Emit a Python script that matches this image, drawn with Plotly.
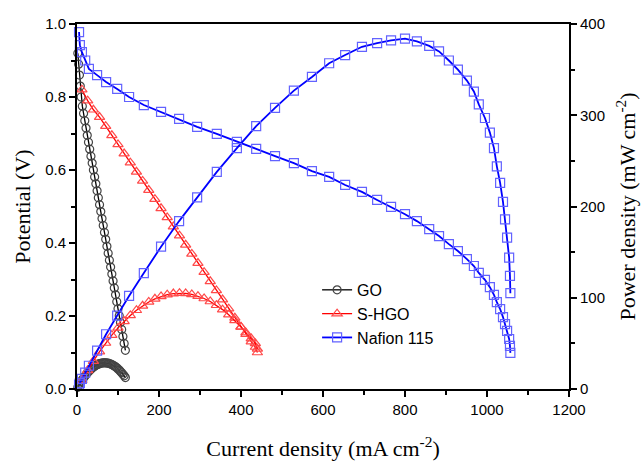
import plotly.graph_objects as go

# ---------------- data ----------------
# GO
go_i = [2, 4, 6, 8, 10, 13, 16, 19, 22, 25, 28, 31, 34, 37, 40, 43, 46, 49, 52, 55,
        58, 61, 64, 67, 70, 73, 76, 79, 82, 85, 88, 91, 94, 97, 100, 103, 106, 109, 112, 115, 118]
go_v = [0.92, 0.89, 0.86, 0.83, 0.80, 0.775, 0.755, 0.735, 0.715, 0.695, 0.676, 0.657, 0.638,
        0.619, 0.60, 0.581, 0.562, 0.543, 0.524, 0.505, 0.486, 0.467, 0.448, 0.429, 0.41, 0.391,
        0.372, 0.353, 0.334, 0.315, 0.296, 0.277, 0.258, 0.239, 0.22, 0.201, 0.182, 0.163, 0.144,
        0.125, 0.106]
go_p = [1.8, 3.6, 5.2, 6.6, 8.0, 10.1, 12.1, 14.0, 15.7, 17.4, 18.9, 20.4, 21.7, 22.9, 24.0,
        25.0, 25.9, 26.6, 27.2, 27.8, 28.2, 28.5, 28.7, 28.7, 28.7, 28.5, 28.3, 27.9, 27.4, 26.8,
        26.0, 25.2, 24.3, 23.2, 22.0, 20.7, 19.3, 17.8, 16.1, 14.4, 12.5]

# S-HGO
shgo_i = [12, 26, 40, 55, 70, 85, 100, 115, 130, 145, 160, 175, 190, 205, 220, 235, 250, 265,
          280, 295, 310, 325, 340, 355, 370, 385, 400, 412, 425, 435, 440]
shgo_v = [0.82, 0.79, 0.765, 0.745, 0.72, 0.695, 0.67, 0.645, 0.62, 0.595, 0.57, 0.545, 0.52,
          0.495, 0.47, 0.445, 0.42, 0.395, 0.37, 0.345, 0.32, 0.295, 0.27, 0.245, 0.22, 0.195,
          0.17, 0.15, 0.13, 0.115, 0.10]
shgo_p = [9.8, 20.5, 30.6, 41.0, 50.4, 59.0, 67.0, 74.2, 80.6, 86.3, 91.2, 95.4, 98.8, 101.5,
          103.4, 104.6, 105.0, 104.7, 103.6, 101.8, 99.2, 95.9, 91.8, 87.0, 81.4, 75.1, 68.0,
          61.8, 55.3, 50.0, 44.0]

# Nafion 115
naf_i = [5, 7, 12, 20, 29, 49, 71, 98, 127, 163, 205, 249, 293, 341, 390, 437, 483, 529, 573,
         615, 654, 695, 732, 766, 800, 829, 859, 883, 907, 929, 951, 968, 980, 995, 1007, 1017,
         1024, 1032, 1039, 1044, 1049, 1054, 1056, 1057]
naf_v = [0.978, 0.942, 0.923, 0.90, 0.877, 0.86, 0.841, 0.822, 0.80, 0.778, 0.759, 0.74, 0.718,
         0.699, 0.677, 0.658, 0.638, 0.619, 0.597, 0.581, 0.559, 0.54, 0.518, 0.499, 0.479, 0.46,
         0.438, 0.419, 0.397, 0.378, 0.356, 0.337, 0.318, 0.299, 0.279, 0.258, 0.238, 0.219,
         0.197, 0.178, 0.159, 0.137, 0.118, 0.099]
naf_p = [4.9, 6.6, 11, 18, 25.5, 42, 60, 80.5, 102, 127, 156, 184, 210, 238, 264, 288, 308, 327,
         342, 357, 366, 375, 379, 382, 384, 381, 376, 370, 360, 350, 338, 326, 312, 297, 281,
         264, 244, 226, 205, 186, 166, 144, 124, 105]

names = ["GO", "S-HGO", "Nafion 115"]
line_colors = ["#000000", "#ff0000", "#0000ff"]
marker_colors = ["#444444", "#ff4a4a", "#6262ff"]
symbols = ["circle-open", "triangle-up-open", "square-open"]
sizes = [8, 9, 9]
line_widths = [1.3, 1.3, 1.8]

series = [(go_i, go_v, go_p), (shgo_i, shgo_v, shgo_p), (naf_i, naf_v, naf_p)]

fig = go.Figure()
for k, (ii, vv, pp) in enumerate(series):
    common = dict(
        mode="lines+markers",
        line=dict(color=line_colors[k], width=line_widths[k]),
        marker=dict(symbol=symbols[k], size=sizes[k], color=marker_colors[k],
                    line=dict(color=marker_colors[k], width=1.2)),
        cliponaxis=False,
    )
    fig.add_trace(go.Scatter(x=ii, y=vv, name=names[k], showlegend=True, yaxis="y", **common))
    fig.add_trace(go.Scatter(x=ii, y=pp, name=names[k], showlegend=False, yaxis="y2", **common))

tickfont = dict(family="Liberation Sans, Arial", size=15, color="#000")
titlefont = dict(family="Liberation Serif, Times New Roman", size=22, color="#000")

fig.update_layout(
    width=643, height=461,
    margin=dict(l=77, r=74, t=24, b=72),
    paper_bgcolor="white", plot_bgcolor="white",
    xaxis=dict(range=[0, 1200], dtick=200, tick0=0, showgrid=False, zeroline=False,
               automargin=False,
               showline=True, linecolor="black", linewidth=2, mirror=True,
               ticks="outside", ticklen=6, tickwidth=2, tickcolor="black",
               minor=dict(dtick=100, ticks="outside", ticklen=4, tickwidth=2, tickcolor="black"),
               tickfont=tickfont,
               title=dict(text="Current density (mA cm<sup>-2</sup>)", font=titlefont, standoff=24)),
    yaxis=dict(range=[0, 1.0], dtick=0.2, tick0=0, tickformat=".1f", showgrid=False,
               automargin=False,
               zeroline=False, showline=True, linecolor="black", linewidth=2,
               ticks="outside", ticklen=6, tickwidth=2, tickcolor="black",
               minor=dict(dtick=0.1, ticks="outside", ticklen=4, tickwidth=2, tickcolor="black"),
               tickfont=tickfont,
               title=dict(text="Potential (V)", font=titlefont, standoff=8)),
    yaxis2=dict(range=[0, 400], dtick=100, tick0=0, overlaying="y", side="right",
                automargin=False,
                showgrid=False, zeroline=False, showline=True, linecolor="black", linewidth=2,
                ticks="outside", ticklen=6, tickwidth=2, tickcolor="black",
                minor=dict(dtick=50, ticks="outside", ticklen=4, tickwidth=2, tickcolor="black"),
                tickfont=tickfont,
                title=dict(text="Power density (mW cm<sup>-2</sup>)", font=titlefont, standoff=16)),
    legend=dict(x=0.488, y=0.318, xanchor="left", yanchor="top", bgcolor="rgba(0,0,0,0)",
                font=dict(family="Liberation Sans, Arial", size=16, color="#000"),
                tracegroupgap=0),
    showlegend=True,
)

fig.write_html("out.html")
